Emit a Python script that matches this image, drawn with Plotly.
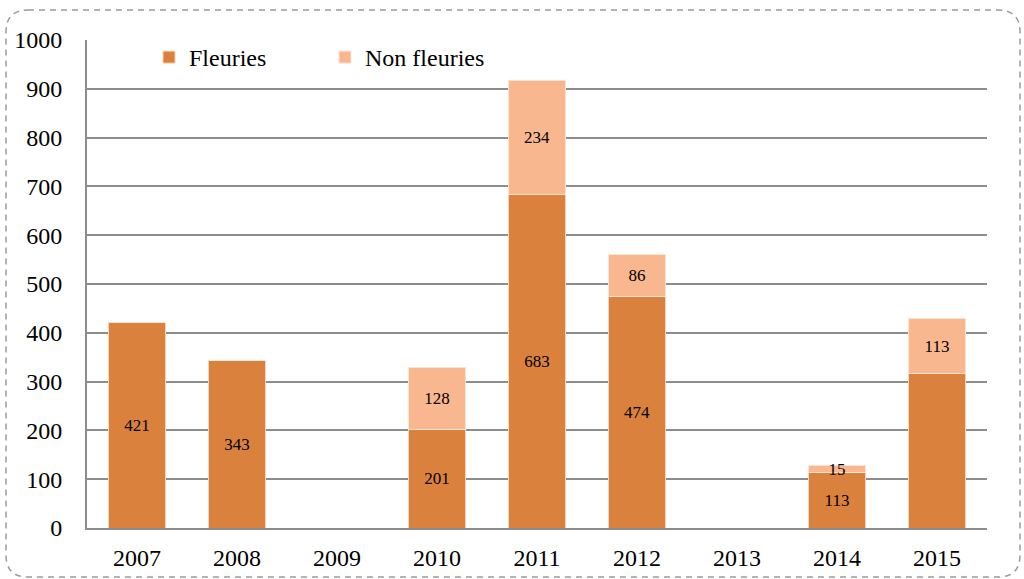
import plotly.graph_objects as go

# Yearly counts, stacked
years = ["2007", "2008", "2009", "2010", "2011", "2012", "2013", "2014", "2015"]
fleuries = [421, 343, 0, 201, 683, 474, 0, 113, 316]
non_fleuries = [0, 0, 0, 128, 234, 86, 0, 15, 113]
# Which segments carry a value label
show_fleuries_label = [True, True, False, True, True, True, False, True, False]
show_non_label = [False, False, False, True, True, True, False, True, True]

y_ticks = [0, 100, 200, 300, 400, 500, 600, 700, 800, 900, 1000]

FONT = "Liberation Serif"
DARK = "#DA823D"
LIGHT = "#F8B78F"
GRID = "#8c8c8c"

def labels(values, flags):
    return [str(v) if f and v else "" for v, f in zip(values, flags)]

fig = go.Figure()
fig.add_trace(go.Bar(
    x=years, y=fleuries, name="Fleuries",
    marker=dict(color=DARK, line=dict(color="#f6d2b8", width=1)),
    text=labels(fleuries, show_fleuries_label),
    textposition="inside", insidetextanchor="middle", textangle=0,
    textfont=dict(family=FONT, size=17, color="black"),
    hoverinfo="x+y+name",
))
fig.add_trace(go.Bar(
    x=years, y=non_fleuries, name="Non fleuries",
    marker=dict(color=LIGHT, line=dict(color="#fde3d2", width=1)),
    text=labels(non_fleuries, show_non_label),
    textposition="inside", insidetextanchor="middle", textangle=0,
    textfont=dict(family=FONT, size=17, color="black"),
    hoverinfo="x+y+name",
))

# Plot area in pixels: left 87, right 987, top 40, bottom 528
L, R, T, B = 87, 987, 40, 528
W, H = R - L, B - T

def px(x):
    return (x - L) / W

def py(y):
    return (B - y) / H

# Dashed rounded frame around the whole figure
x0, x1, y0, y1, r = 6, 1020, 10, 577, 22
pts = [
    ("M", px(x0 + r), py(y0)),
    ("L", px(x1 - r), py(y0)),
    ("Q", px(x1), py(y0), px(x1), py(y0 + r)),
    ("L", px(x1), py(y1 - r)),
    ("Q", px(x1), py(y1), px(x1 - r), py(y1)),
    ("L", px(x0 + r), py(y1)),
    ("Q", px(x0), py(y1), px(x0), py(y1 - r)),
    ("L", px(x0), py(y0 + r)),
    ("Q", px(x0), py(y0), px(x0 + r), py(y0)),
]
path = " ".join(c + " " + " ".join(f"{v:.5f}" for v in vals)
                for c, *vals in pts) + " Z"

fig.update_layout(
    width=1024, height=579,
    margin=dict(l=L, r=1024 - R, t=T, b=579 - B, autoexpand=False),
    paper_bgcolor="white", plot_bgcolor="white",
    barmode="stack", bargap=0.43,
    font=dict(family=FONT, size=24, color="black"),
    uniformtext=dict(mode="show", minsize=17),
    showlegend=True,
    legend=dict(
        orientation="h", x=px(149), xanchor="left", y=py(35), yanchor="top",
        bgcolor="rgba(0,0,0,0)", font=dict(family=FONT, size=24),
        entrywidth=131, entrywidthmode="pixels", traceorder="normal",
    ),
    xaxis=dict(
        showgrid=False, ticks="", ticklabelstandoff=7, automargin=False,
        showline=True, linecolor=GRID, linewidth=2,
        tickfont=dict(family=FONT, size=24),
    ),
    yaxis=dict(
        range=[0, 1000], tickvals=y_ticks, ticks="", automargin=False,
        showgrid=True, gridcolor=GRID, gridwidth=1.7,
        showline=True, linecolor=GRID, linewidth=2,
        zeroline=False, ticklabelstandoff=18,
        tickfont=dict(family=FONT, size=24),
    ),
    shapes=[dict(
        type="path", xref="paper", yref="paper", path=path,
        line=dict(color="#9a9a9a", width=1.5, dash="6px,5px"),
        layer="above",
    )],
)

fig.write_html("out.html")
